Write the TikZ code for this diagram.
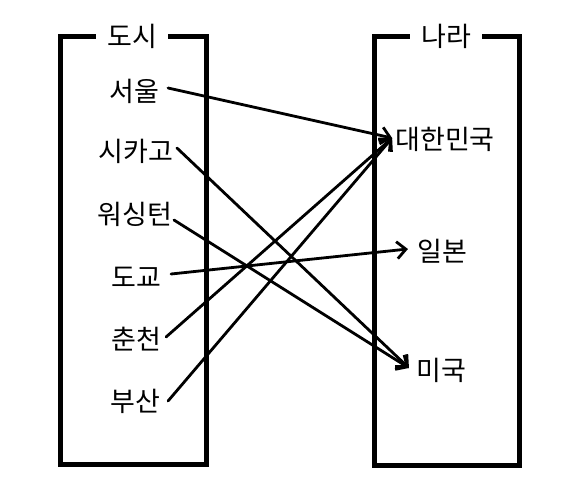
\documentclass[tikz,border=0pt]{standalone}
\usepackage{fontspec}
\setmainfont{Noto Sans CJK KR}
\usetikzlibrary{arrows.meta}
\begin{document}
\begin{tikzpicture}[x=1pt,y=-1pt,
  frame/.style={draw, line width=5pt, rectangle, inner sep=0pt},
  title/.style={fill=white, minimum width=72pt, inner sep=0pt, font=\fontsize{27}{27}\selectfont},
  item/.style={inner sep=0pt, font=\fontsize{27}{27}\selectfont},
  link/.style={line width=2.8pt, line cap=round, -{Straight Barb[length=9pt,width=17pt,line width=2.8pt]}}]
\useasboundingbox (0,0) rectangle (584,484);
\node[frame, minimum width=146pt, minimum height=427pt] (cities) at (133,250.5) {};
\node[frame, minimum width=145pt, minimum height=428pt] (countries) at (446.5,251) {};
\node[title] (tcities) at (132,36) {도시};
\node[title] (tcountries) at (446,36) {나라};
\node[item] (seoul) at (134,91) {서울};
\node[item] (chicago) at (136,151) {시카고};
\node[item] (wash) at (135,214) {워싱턴};
\node[item] (tokyo) at (136,277) {도교};
\node[item] (chun) at (136,339) {춘천};
\node[item] (busan) at (135,401) {부산};
\node[item] (korea) at (445,139) {대한민국};
\node[item] (japan) at (442,251) {일본};
\node[item] (usa) at (441,370) {미국};
\draw[link] ([xshift=9pt,yshift=3pt]seoul.east) -- ([xshift=-3pt,yshift=1pt]korea.west);
\draw[link] ([xshift=3.5pt,yshift=3pt]chicago.east) -- ([xshift=-7pt,yshift=2pt]usa.west);
\draw[link] ([xshift=1.5pt,yshift=-6pt]wash.east) -- ([xshift=-7pt,yshift=2pt]usa.west);
\draw[link] ([xshift=10pt,yshift=3pt]tokyo.east) -- ([xshift=-9pt,yshift=2pt]japan.west);
\draw[link] ([xshift=5pt,yshift=2pt]chun.east) -- ([xshift=-3pt,yshift=1pt]korea.west);
\draw[link] ([xshift=8pt]busan.east) -- ([xshift=-3pt,yshift=1pt]korea.west);
\end{tikzpicture}
\end{document}
